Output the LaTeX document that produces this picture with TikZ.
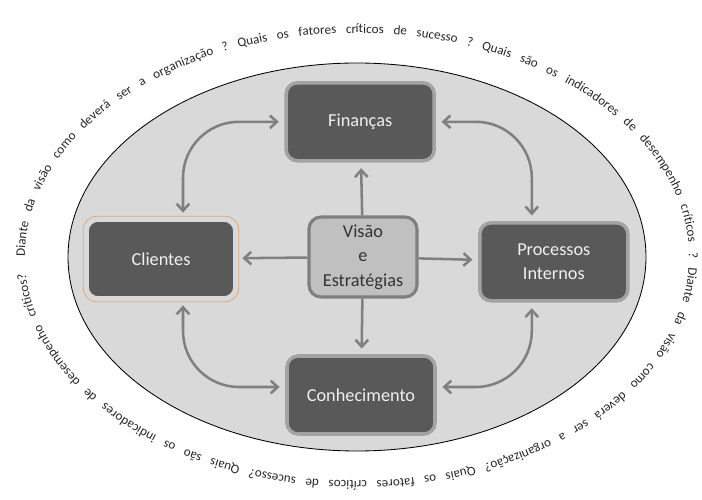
\documentclass[tikz,border=0pt]{standalone}
\usepackage{fontspec}
\setmainfont{Carlito}
\usetikzlibrary{arrows.meta,decorations.text}
\definecolor{boxfill}{HTML}{595959}
\definecolor{boxring}{HTML}{A3A3A3}
\definecolor{corefill}{HTML}{C0C0C0}
\definecolor{corering}{HTML}{7F7F7F}
\definecolor{fieldgray}{HTML}{D9D9D9}
\definecolor{linkgray}{HTML}{808080}
\definecolor{cliorange}{RGB}{226,168,120}
\newcommand\ringfont{\fontsize{9.3}{11}\selectfont}

\begin{document}
\begin{tikzpicture}[
    box/.style={rectangle, rounded corners=0.28cm, fill=boxfill, draw=boxring, line width=2.5pt,
        minimum width=3.7cm, minimum height=1.95cm, text=white!94!black, align=center,
        font=\fontsize{13}{17.5}\selectfont},
    core/.style={rectangle, rounded corners=0.3cm, fill=corefill, draw=corering, line width=2.2pt,
        minimum width=2.7cm, minimum height=2cm, text=black!80, align=center,
        font=\fontsize{13}{17.5}\selectfont},
    link/.style={draw=linkgray, line width=1.8pt, -{Straight Barb[length=5pt,width=9pt]}, shorten >=4pt},
    twoway/.style={draw=linkgray, line width=1.8pt,
        {Straight Barb[length=5pt,width=9pt]}-{Straight Barb[length=5pt,width=9pt]},
        shorten >=4pt, shorten <=4pt, rounded corners=1.4cm}
]
    \useasboundingbox (-8.925,-6.075) rectangle (8.625,6.425);
    % Field
    \draw[fill=fieldgray, line width=0.6pt] (0,0) ellipse [x radius=7.225, y radius=4.85];
    % Ring of questions
    \path[decorate, decoration={text along path, text color=black!85,
            text align={fit to path stretching spaces},
            text={|\ringfont|Diante da visão como deverá ser a organização ? Quais os fatores críticos de sucesso ? Quais são os indicadores de desempenho críticos ? Diante da visão como deverá ser a organização? Quais os fatores críticos de sucesso? Quais são os indicadores de desempenho críticos?}}]
        (180:8.3 and 5.6) arc[start angle=180, end angle=-175.6, x radius=8.3, y radius=5.6];
    % Boxes
    \node[core] (vis) at (0.15,0) {Visão\\e\\Estratégias};
    \node[box] (fin) at (0.08,3.38) {Finanças};
    \node[box, draw=gray!30] (cli) at (-4.9,-0.05) {Clientes};
    \node[box] (pro) at (4.92,-0.12) {Processos\\Internos};
    \node[box] (con) at (0.1,-3.45) {Conhecimento};
    \draw[cliorange, line width=0.6pt, rounded corners=0.34cm]
        ([shift={(-0.05,0.05)}]cli.north west) rectangle ([shift={(0.05,-0.05)}]cli.south east);
    % Center to the four sides
    \draw[link] (vis) -- (fin);
    \draw[link] (vis) -- (cli);
    \draw[link] (vis) -- (pro);
    \draw[link] (vis) -- (con);
    % Round the loop
    \draw[twoway] ([xshift=0.55cm]cli.north) |- (fin.west);
    \draw[twoway] (fin.east) -| ([xshift=-0.55cm]pro.north);
    \draw[twoway] ([xshift=0.55cm]cli.south) |- ([yshift=0.2cm]con.west);
    \draw[twoway] ([xshift=-0.55cm]pro.south) |- ([yshift=0.2cm]con.east);
\end{tikzpicture}
\end{document}
